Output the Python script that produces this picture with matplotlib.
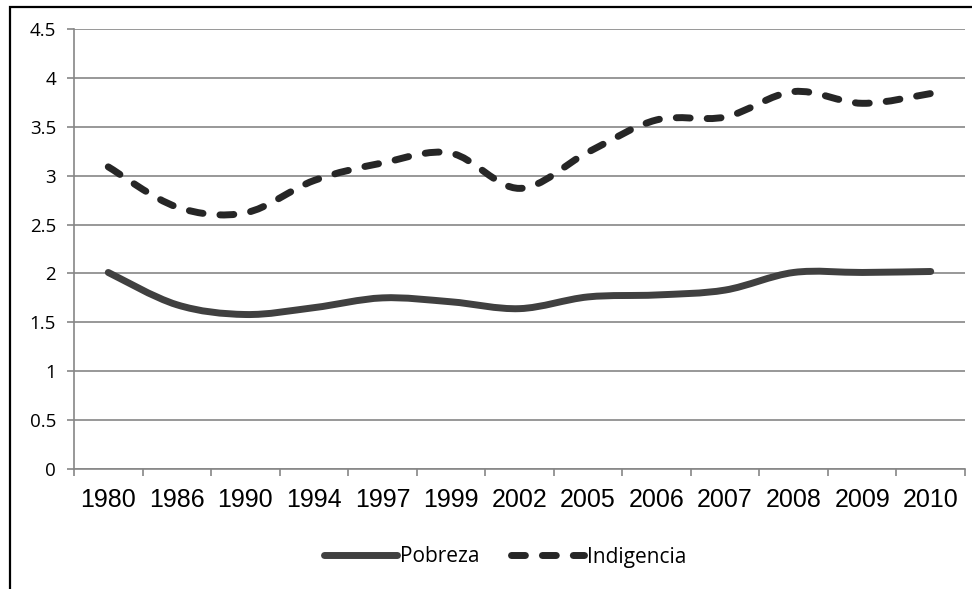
import numpy as np
import matplotlib
matplotlib.use('Agg')
from matplotlib import pyplot as plt
from matplotlib.path import Path
from matplotlib.patches import PathPatch, Rectangle
from matplotlib.lines import Line2D

years = ['1980', '1986', '1990', '1994', '1997', '1999', '2002',
         '2005', '2006', '2007', '2008', '2009', '2010']
pobreza = [2.01, 1.68, 1.58, 1.65, 1.75, 1.71, 1.64, 1.76, 1.78, 1.83, 2.01, 2.01, 2.02]
indigencia = [3.09, 2.68, 2.62, 2.95, 3.13, 3.23, 2.87, 3.24, 3.57, 3.60, 3.86, 3.74, 3.84]
yticks = [0, 0.5, 1, 1.5, 2, 2.5, 3, 3.5, 4, 4.5]


def smooth_path(xs, ys):
    # Excel style smoothed line: cubic bezier segments through every point
    pts = np.column_stack([xs, ys]).astype(float)
    n = len(pts)
    verts = [pts[0]]
    codes = [Path.MOVETO]
    for i in range(n - 1):
        p0 = pts[i - 1] if i > 0 else pts[i]
        p1 = pts[i]
        p2 = pts[i + 1]
        p3 = pts[i + 2] if i + 2 < n else pts[i + 1]
        c1 = p1 + (p2 - p0) / 6.0
        c2 = p2 - (p3 - p1) / 6.0
        verts += [c1, c2, p2]
        codes += [Path.CURVE4] * 3
    return Path(verts, codes)


fig = plt.figure(figsize=(9.72, 5.89), dpi=100)
ax = fig.add_axes([74 / 972, 1 - 469 / 589, 891 / 972, 440 / 589])

x = np.arange(len(years))
c_pob = '#404040'
c_ind = '#262626'

ax.add_patch(PathPatch(smooth_path(x, pobreza), fill=False, edgecolor=c_pob,
                       linewidth=5, capstyle='round', joinstyle='round', zorder=3))
ax.add_patch(PathPatch(smooth_path(x, indigencia), fill=False, edgecolor=c_ind,
                       linewidth=5, capstyle='round', joinstyle='round',
                       linestyle=(0, (2.0, 2.45)), zorder=3))

ax.set_xlim(-0.5, len(years) - 0.5)
ax.set_ylim(0, 4.5)

grid_c = '#868686'
ax.set_yticks(yticks)
ax.set_yticklabels([f'{v:g}' for v in yticks], fontsize=13.5, family='Open Sans')
ax.yaxis.grid(True, color=grid_c, linewidth=1.2)
ax.set_axisbelow(True)

ax.set_xticks(np.arange(-0.5, len(years)))
ax.set_xticklabels([])
ax.set_xticks(x, minor=True)
ax.set_xticklabels(years, minor=True, fontsize=18, family='Liberation Sans')
ax.tick_params(axis='x', which='major', length=5, color=grid_c, width=1.2)
ax.tick_params(axis='x', which='minor', length=0, pad=14)
ax.tick_params(axis='y', length=5, color=grid_c, width=1.2, pad=8)

for s in ['top', 'right']:
    ax.spines[s].set_visible(False)
for s in ['left', 'bottom']:
    ax.spines[s].set_color(grid_c)
    ax.spines[s].set_linewidth(1.2)

handles = [
    Line2D([], [], color=c_pob, linewidth=5, solid_capstyle='round'),
    Line2D([], [], color=c_ind, linewidth=5, dash_capstyle='round',
           linestyle=(0, (2.0, 2.45))),
]
fig.legend(handles, ['Pobreza', 'Indigencia'], loc='center',
           bbox_to_anchor=(505 / 972, 1 - 557 / 589), ncol=2, frameon=False,
           prop={'family': 'Open Sans', 'size': 15}, handlelength=3.5,
           handletextpad=0.15, columnspacing=1.5)

fig.patches.append(Rectangle((10 / 972, -0.05), 1.2, 1.05 - 7 / 589,
                             transform=fig.transFigure, fill=False,
                             edgecolor='black', linewidth=1.6))

fig.savefig('out.png', dpi=100)
